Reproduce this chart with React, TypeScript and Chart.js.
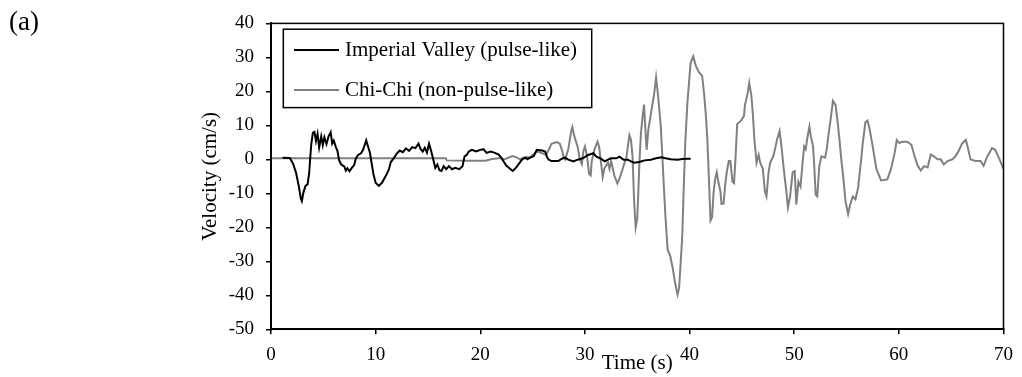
import React, { useEffect, useRef } from "react";
import { Chart, registerables } from "chart.js";

Chart.register(...registerables);

// ---------------- data ----------------
const seriesLabels = ["Imperial Valley (pulse-like)", "Chi-Chi (non-pulse-like)"];
const seriesColors = ["#000000", "#808080"];

const imperialTime = [
  1.1, 1.8, 2.1, 2.4, 2.65, 2.85, 2.95, 3.1, 3.3, 3.5,
  3.65, 3.75, 3.85, 4.0, 4.15, 4.3, 4.45, 4.6, 4.8, 4.95,
  5.1, 5.3, 5.5, 5.7, 5.85, 6.0, 6.2, 6.35, 6.5, 6.7,
  7.0, 7.15, 7.3, 7.5, 7.7, 7.95, 8.1, 8.3, 8.6, 8.8,
  8.95, 9.1, 9.25, 9.45, 9.6, 9.8, 10.0, 10.3, 10.6, 10.95,
  11.25, 11.45, 11.7, 12.0, 12.3, 12.6, 12.9, 13.2, 13.5, 13.8,
  14.1, 14.3, 14.5, 14.7, 14.9, 15.1, 15.3, 15.5, 15.7, 15.9,
  16.1, 16.3, 16.5, 16.75, 17.0, 17.3, 17.6, 18.0, 18.3, 18.5,
  18.7, 18.9, 19.2, 19.6, 20.0, 20.3, 20.6, 21.0, 21.4, 21.75,
  22.0, 22.2, 22.5, 22.9, 23.1, 23.4, 23.65, 24.0, 24.3, 24.5,
  24.75, 25.1, 25.4, 25.9, 26.2, 26.35, 26.5, 26.8, 27.45, 27.8,
  28.1, 28.4, 28.9, 29.3, 29.8, 30.3, 30.8, 31.1, 31.4, 31.9,
  32.2, 32.5, 33.0, 33.3, 33.7, 34.1, 34.4, 34.7, 35.2, 35.7,
  36.3, 36.8, 37.3, 37.7, 38.2, 38.85, 39.3, 39.8, 40.1,
];
const imperialVelocity = [
  0.5, 0.4, -1.2, -4, -7.8, -11.5, -12.3, -9.7, -7.8, -7.3,
  -4, 0.5, 4.5, 7.8, 8.1, 5.4, 7.5, 3.5, 6.8, 4.2,
  6.5, 4.5, 6.8, 8.0, 4.6, 5.5, 3.6, 2.5, -0.2, -1.5,
  -2.1, -3.3, -2.6, -3.5, -2.6, -1.7, 0.2, 1.2, 1.8, 2.8,
  4.2, 5.6, 4.0, 2.0, -0.8, -4.5, -6.9, -7.8, -6.9, -5,
  -3.1, -0.8, 0.2, 1.6, 2.6, 2.1, 3.2, 2.5, 3.6, 3.3,
  4.6, 3.0, 2.3, 3.4, 2.0, 4.6, 2.5, 0, -2.5, -1.5,
  -3.2, -3.4, -2.0, -2.9, -2.0, -2.9, -2.5, -2.9, -2.0, 0.9,
  1.3, 2.3, 2.8, 2.3, 2.8, 3.0, 1.9, 2.3, 1.9, 1.4,
  0.5, -0.5, -1.9, -2.9, -3.4, -2.5, -1.5, 0, 0.5, 0,
  0.5, 0.9, 2.8, 2.6, 2.3, 0.9, 0, -0.5, -0.5, 0.2,
  0.5, -0.1, -0.6, -0.1, 0.3, 1.3, 1.8, 0.8, 0.4, -0.6,
  -0.1, 0.3, 0.3, 0.8, -0.1, -0.1, -0.6, -1.0, -0.8, -0.3,
  -0.1, 0.3, 0.6, 0.3, 0, -0.1, 0.1, 0.2, 0.2,
];

const chiChiTime = [
  0, 16.7, 16.8, 18.6, 20.5, 21, 21.9, 22.3, 22.7, 23.1,
  23.5, 23.8, 24.1, 24.5, 24.8, 24.9, 25.2, 25.5, 25.9, 26.3,
  26.6, 26.8, 27.3, 27.6, 27.8, 27.95, 28.1, 28.4, 28.7, 28.8,
  29.0, 29.3, 29.5, 29.7, 29.85, 30.0, 30.2, 30.4, 30.55, 30.65,
  30.9, 31.2, 31.35, 31.5, 31.7, 31.85, 32.2, 32.35, 32.5, 32.6,
  32.8, 33.1, 33.3, 33.5, 33.8, 33.95, 34.1, 34.25, 34.4, 34.55,
  34.7, 34.85, 35.0, 35.1, 35.2, 35.35, 35.5, 35.65, 35.8, 35.9,
  36.05, 36.25, 36.4, 36.6, 36.8, 36.95, 37.1, 37.25, 37.4, 37.55,
  37.7, 37.9, 38.15, 38.4, 38.6, 38.85, 39.0, 39.15, 39.3, 39.45,
  39.6, 39.8, 40.1, 40.35, 40.6, 40.9, 41.2, 41.4, 41.55, 41.7,
  41.85, 42.0, 42.15, 42.3, 42.45, 42.6, 42.75, 42.95, 43.05, 43.25,
  43.4, 43.55, 43.75, 43.9, 44.1, 44.25, 44.4, 44.55, 44.9, 45.2,
  45.3, 45.55, 45.7, 45.9, 46.05, 46.2, 46.4, 46.6, 46.75, 47.0,
  47.2, 47.35, 47.55, 47.7, 48.0, 48.15, 48.35, 48.6, 48.75, 49.0,
  49.25, 49.4, 49.6, 49.85, 50.05, 50.2, 50.4, 50.6, 50.8, 50.95,
  51.1, 51.25, 51.45, 51.6, 51.8, 51.9, 52.05, 52.2, 52.4, 52.6,
  52.95, 53.1, 53.25, 53.5, 53.7, 53.95, 54.1, 54.3, 54.5, 54.7,
  54.9, 55.15, 55.35, 55.6, 55.85, 56.1, 56.4, 56.55, 56.8, 57.0,
  57.2, 57.5, 57.85, 58.3, 58.9, 59.25, 59.6, 59.8, 60.05, 60.35,
  60.8, 61.2, 61.5, 61.8, 62.1, 62.4, 62.75, 63.05, 63.35, 63.7,
  64.0, 64.3, 64.65, 65.1, 65.4, 65.7, 66.05, 66.4, 66.55, 66.85,
  67.3, 67.8, 68.1, 68.4, 68.9, 69.2, 69.55, 70,
];
const chiChiVelocity = [
  0.3, 0.3, -0.3, -0.4, -0.4, 0, 0.4, 0, 0.5, 1.0,
  0.5, 0, 0.5, 0.7, 0.5, 1.0, 1.8, 2.3, 1.8, 1.4,
  3.2, 4.6, 5.1, 4.6, 2.8, 0.9, 0, 2.8, 8.5, 9.5,
  6.6, 3.8, 0.1, -1.4, 2.4, 3.8, 1.0, -4.3, -4.7, -0.5,
  2.8, 5.2, 3.8, 0.1, -5.2, -2.8, -0.9, -2.8, -0.5, -1.9,
  -4.7, -7.1, -5.7, -3.8, -0.9, 0.1, 3.8, 7.1, 5.7, 0.9,
  -12.3, -20, -17.4, -9.8, -1.4, 7.6, 12.3, 16.1, 7.6, 2.8,
  8.5, 12.3, 15.3, 18.9, 24.1, 19.9, 15.1, 9.5, 0.9, -8.5,
  -17, -26.5, -28.4, -32.2, -36, -39.8, -37.9, -30.3, -22.7, -7.6,
  5.7, 17, 28.4, 30.3, 27.5, 25.6, 24.6, 18.9, 13.3, 5.7,
  -5.7, -18, -17, -9.5, -5.7, -3.8, -6.6, -9.5, -13.1, -13,
  -7.6, -3.8, -0.5, -0.5, -6.6, -7, 0.9, 10.4, 11.3, 12.8,
  16.1, 19.4, 22.5, 18.9, 13.2, 5.7, -1, 1.3, -1, -2.8,
  -9.5, -10.9, -3.8, -1, 0.9, 2.8, 5.7, 8.3, 4.7, -2.8,
  -9.5, -14.2, -11, -3.8, -3.5, -13.3, -6.6, -8, -1, 3.8,
  3.0, 6.2, 9.6, 6.6, 3.8, -1, -10.4, -10.9, -1.9, 0.9,
  0.5, 2.8, 6.6, 12.3, 17.2, 16, 12.3, 6.6, 0, -5.7,
  -12.3, -16.1, -13.3, -10.9, -11.8, -8.5, 0, 4.7, 10.9, 11.4,
  9, 3.8, -2.8, -6.2, -5.9, -2.8, 1.9, 5.7, 4.8, 5.2,
  5.2, 4.3, 0.9, -1.9, -3.3, -2.0, -2.4, 1.4, 0.9, 0,
  0, -1.5, -0.5, 0, 0.9, 2.4, 4.7, 5.7, 4.0, 0,
  -0.5, -0.5, -1.9, 0.5, 3.3, 2.8, 0.5, -2.8,
];

const xTickValues = [0, 10, 20, 30, 40, 50, 60, 70];
const yTickValues = [40, 30, 20, 10, 0, -10, -20, -30, -40, -50];
const xTitle = "Time (s)";
const yTitle = "Velocity (cm/s)";
const panelLabel = "(a)";

// ---------------- chart ----------------
const W = 1022;
const H = 377;
const FONT = '"Liberation Serif", "Times New Roman", serif';

const decorPlugin = {
  id: "decor",
  afterDatasetsDraw(chart: any) {
    const { ctx, chartArea: a } = chart;
    ctx.save();
    // frame
    ctx.strokeStyle = "#000";
    ctx.lineWidth = 1.5;
    ctx.strokeRect(a.left, a.top, a.right - a.left, a.bottom - a.top);
    // legend box
    const bx = a.left + 12.3;
    const by = a.top + 5.8;
    const bw = 308.4;
    const bh = 78.4;
    ctx.fillStyle = "#fff";
    ctx.fillRect(bx, by, bw, bh);
    ctx.strokeStyle = "#000";
    ctx.lineWidth = 1.5;
    ctx.strokeRect(bx, by, bw, bh);
    chart.data.datasets.forEach((ds: any, i: number) => {
      const y = by + 20.7 + i * 40;
      ctx.strokeStyle = ds.borderColor;
      ctx.lineWidth = 2;
      ctx.beginPath();
      ctx.moveTo(bx + 10.7, y);
      ctx.lineTo(bx + 55.7, y);
      ctx.stroke();
      ctx.fillStyle = "#000";
      ctx.font = `21px ${FONT}`;
      ctx.textAlign = "left";
      ctx.textBaseline = "middle";
      ctx.fillText(ds.label, bx + 61.7, y + 1);
    });
    ctx.restore();
  },
  afterDraw(chart: any) {
    const { ctx } = chart;
    ctx.save();
    ctx.fillStyle = "#000";
    ctx.font = `27px ${FONT}`;
    ctx.textAlign = "left";
    ctx.textBaseline = "alphabetic";
    ctx.fillText(panelLabel, 9, 30);
    ctx.restore();
  },
};

export default function App() {
  const canvasRef = useRef<HTMLCanvasElement | null>(null);

  useEffect(() => {
    const canvas = canvasRef.current;
    if (!canvas) return;
    const tickFont = { family: FONT, size: 19 };
    const titleFont = { family: FONT, size: 21 };
    const chart = new Chart(canvas, {
      type: "line",
      data: {
        datasets: [
          {
            label: seriesLabels[0],
            data: imperialTime.map((t, i) => ({ x: t, y: imperialVelocity[i] })),
            borderColor: seriesColors[0],
            backgroundColor: seriesColors[0],
            borderWidth: 2,
            pointRadius: 0,
            tension: 0,
            fill: false,
          },
          {
            label: seriesLabels[1],
            data: chiChiTime.map((t, i) => ({ x: t, y: chiChiVelocity[i] })),
            borderColor: seriesColors[1],
            backgroundColor: seriesColors[1],
            borderWidth: 2,
            pointRadius: 0,
            tension: 0,
            fill: false,
          },
        ],
      },
      options: {
        responsive: false,
        animation: false,
        devicePixelRatio: 1,
        layout: { padding: { left: 0, right: 14, top: 12.5, bottom: 0 } },
        plugins: {
          legend: { display: false },
          tooltip: { enabled: false },
        },
        scales: {
          x: {
            type: "linear",
            min: 0,
            max: 70,
            afterBuildTicks: (s: any) => {
              s.ticks = xTickValues.map((v) => ({ value: v }));
            },
            afterFit: (s: any) => {
              s.height = H - 329.3;
            },
            ticks: {
              color: "#000",
              font: tickFont,
              padding: 9,
              maxRotation: 0,
              autoSkip: false,
            },
            grid: {
              display: true,
              drawOnChartArea: false,
              drawTicks: true,
              tickLength: 5,
              color: "#000",
              lineWidth: 1.5,
            },
            border: { display: true, color: "#000", width: 2 },
            title: {
              display: true,
              text: xTitle,
              color: "#000",
              font: titleFont,
              padding: { top: 0, bottom: 1 },
            },
          },
          y: {
            type: "linear",
            min: -50,
            max: 40,
            afterBuildTicks: (s: any) => {
              s.ticks = yTickValues.map((v) => ({ value: v }));
            },
            afterFit: (s: any) => {
              s.width = 271;
            },
            ticks: {
              color: "#000",
              font: tickFont,
              padding: 12,
              autoSkip: false,
            },
            grid: {
              display: true,
              drawOnChartArea: false,
              drawTicks: true,
              tickLength: 5,
              color: "#000",
              lineWidth: 1.5,
            },
            border: { display: true, color: "#000", width: 2 },
            title: {
              display: true,
              text: yTitle,
              color: "#000",
              font: titleFont,
              padding: { top: 197.4, bottom: 0 },
            },
          },
        },
      },
      plugins: [decorPlugin],
    } as any);
    return () => chart.destroy();
  }, []);

  return (
    <div style={{ position: "absolute", left: 0, top: 0, width: W, height: H, background: "#fff" }}>
      <canvas ref={canvasRef} width={W} height={H} style={{ width: W, height: H, display: "block" }} />
    </div>
  );
}
